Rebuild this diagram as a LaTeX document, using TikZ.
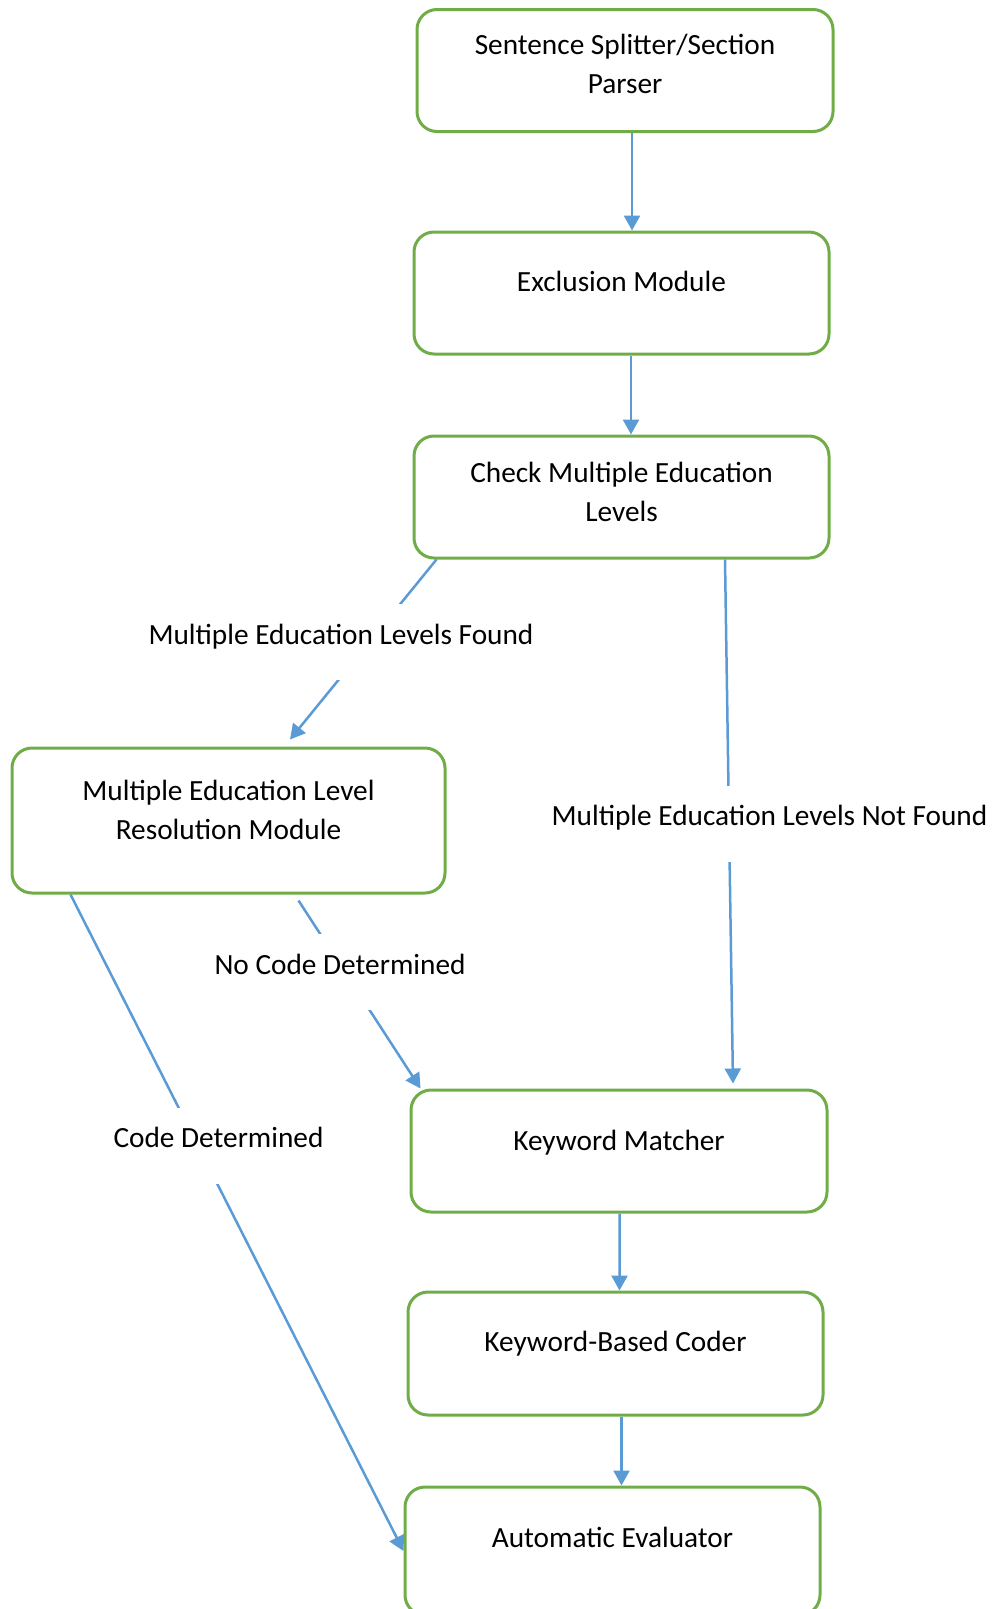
\documentclass[tikz,border=0pt]{standalone}
\usepackage{fontspec}
\setmainfont{Carlito}
\usetikzlibrary{arrows.meta,calc}
\definecolor{boxgreen}{RGB}{112,173,71}
\definecolor{flowblue}{RGB}{91,155,213}
\begin{document}
\begin{tikzpicture}[x=1pt,y=-1pt,
  stage/.style={draw=boxgreen,line width=3pt,rounded corners=20pt,fill=white,inner sep=0pt},
  stagetext/.style={font=\fontsize{29.3}{39}\selectfont,align=center,inner sep=0pt},
  flow/.style={draw=flowblue,line width=2.5pt,-{Triangle[length=15pt,width=16pt]}},
  flowlabel/.style={font=\fontsize{29.3}{39}\selectfont,fill=white,inner xsep=2pt,inner ysep=0pt,anchor=base,text height=40pt,text depth=36pt}]
\useasboundingbox (0,0) rectangle (994,1609);

% processing stages
\node[stage,minimum width=416pt,minimum height=122pt] (b1) at (625,70.5) {};
\node[stage,minimum width=415pt,minimum height=122pt] (b2) at (621.5,293) {};
\node[stage,minimum width=415pt,minimum height=122pt] (b3) at (621.5,497) {};
\node[stage,minimum width=433pt,minimum height=145pt] (b4) at (228.5,820.5) {};
\node[stage,minimum width=416pt,minimum height=122pt] (b5) at (619,1151) {};
\node[stage,minimum width=415pt,minimum height=123pt] (b6) at (615.5,1353.5) {};
\node[stage,minimum width=415pt,minimum height=128pt] (b7) at (612.5,1551) {};

% stage captions, set a little above the box centre
\node[stagetext] (t1) at ($(b1.center)+(0,-6.5)$) {Sentence Splitter/Section\\Parser};
\node[stagetext] (t2) at ($(b2.center)+(0,-12)$) {Exclusion Module};
\node[stagetext] (t3) at ($(b3.center)+(0,-5)$) {Check Multiple Education\\Levels};
\node[stagetext] (t4) at ($(b4.center)+(0,-10.5)$) {Multiple Education Level\\Resolution Module};
\node[stagetext] (t5) at ($(b5.center)+(0,-8)$) {Keyword Matcher};
\node[stagetext] (t6) at ($(b6.center)+(0,-9.5)$) {Keyword-Based Coder};
\node[stagetext] (t7) at ($(b7.center)+(0,-14)$) {Automatic Evaluator};

% flow between stages
\draw[flow] ($(b1.south)+(7,0)$) -- ($(b2.north)+(10.5,0)$);
\draw[flow] ($(b2.south)+(9.5,0)$) -- ($(b3.north)+(9.5,0)$);
\draw[flow] ($(b3.south west)+(24,0)$) -- ($(b4.north)+(61.5,-7)$);
\draw[flow] ($(b3.south)+(103.5,0)$) -- ($(b5.north)+(114,-5)$);
\draw[flow] ($(b4.south)+(70,6)$) -- ($(b5.north west)+(11,0)$);
\draw[flow] ($(b4.south west)+(60,0)$) -- (b7.west);
\draw[flow] ($(b5.south)+(0.6,0)$) -- ($(b6.north)+(4,0)$);
\draw[flow] ($(b6.south)+(6,0)$) -- ($(b7.north)+(9,0)$);

% branch labels, drawn over the connectors
\node[flowlabel] (l1) at (341,644) {Multiple Education Levels Found};
\node[flowlabel] (l2) at (769.5,825.5) {Multiple Education Levels Not Found};
\node[flowlabel] (l3) at (340,974) {No Code Determined};
\node[flowlabel] (l4) at (218.5,1147.6) {Code Determined};
\end{tikzpicture}
\end{document}
